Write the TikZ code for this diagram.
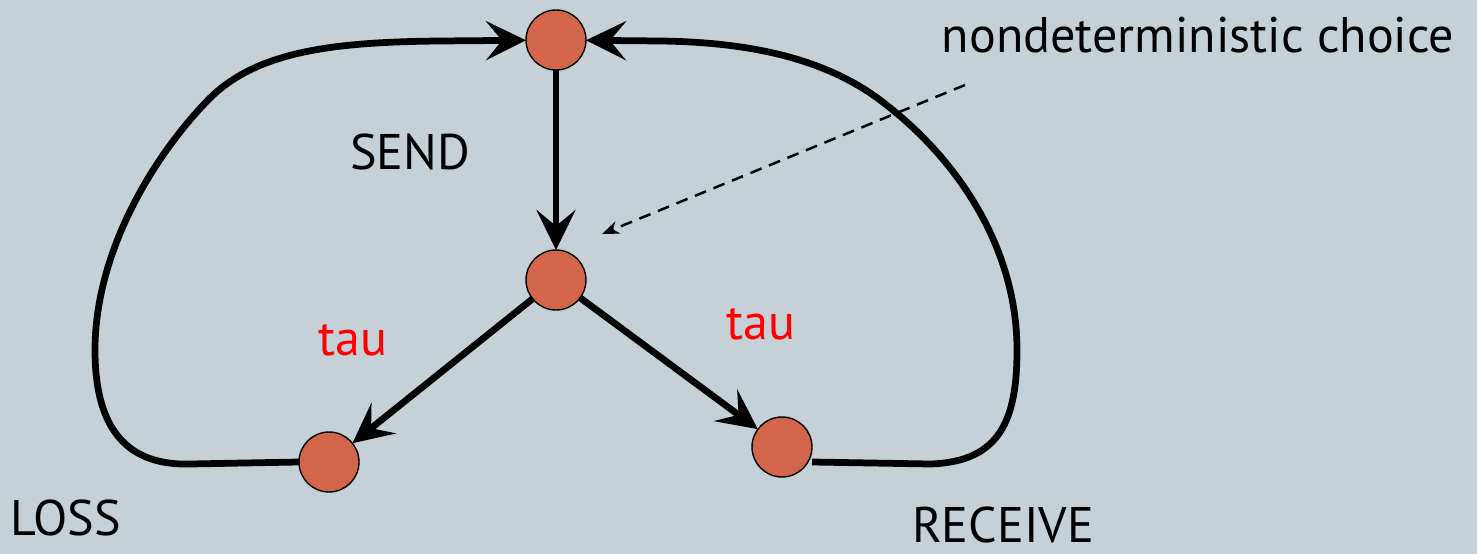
\documentclass[tikz,border=0pt]{standalone}
\usepackage{fontspec}
\setmainfont{PT Sans}
\usepackage{xcolor}
\usetikzlibrary{arrows.meta}
\definecolor{slate}{RGB}{197,209,215}
\definecolor{statefill}{RGB}{211,101,74}
\newcommand{\statesize}{1.2cm}
\newcommand{\arcwidth}{0.135cm}
\newcommand{\labelfont}{\fontsize{28.5}{34}\selectfont}
\tikzset{
  state/.style={circle,draw,line width=0.8pt,fill=statefill,
    minimum size=\statesize,inner sep=0pt,outer sep=0pt},
  arc/.style={line width=\arcwidth,
    -{Stealth[length=0.8cm,width=0.78cm,inset=0.32cm]}},
  loop/.style={arc,rounded corners=0pt},
  lbl/.style={anchor=base,inner sep=0pt,font=\labelfont},
  hint/.style={line width=0.05cm,dash pattern=on 0.24cm off 0.16cm,
    -{Stealth[length=0.34cm,width=0.26cm,inset=0.1cm]}},
}

\begin{document}
\begin{tikzpicture}[x=0.02cm,y=-0.02cm]
  % background
  \fill[slate] (0,0) rectangle (1477,554);
  \useasboundingbox (0,0) rectangle (1477,554);
  % states
  \node[state] (top) at (556,40) {};
  \node[state] (mid) at (556,280) {};
  \node[state] (loss) at (329,462) {};
  \node[state] (recv) at (782,447) {};
  % transitions
  \draw[arc] (top) -- (mid);
  \draw[arc] (mid) -- (loss);
  \draw[arc] (mid) -- (recv);
  % loss loop
  \draw[loop] (loss.west) -- (190,464)
    .. controls (120,466) and (95,420) .. (95,350)
    .. controls (95,255) and (150,160) .. (208,100)
    .. controls (255,52) and (330,42) .. (440,41) -- (top);
  % receive loop
  \draw[loop] (recv.east |- 0,462) -- (930,464)
    .. controls (1000,462) and (1017,420) .. (1017,350)
    .. controls (1017,250) and (960,160) .. (880,100)
    .. controls (820,55) and (740,42) .. (660,41) -- (top);
  % labels
  \node[lbl] (send) at (410,170) {SEND};
  \node[lbl,red] (tauloss) at (353,355) {tau};
  \node[lbl,red] (taurecv) at (761,339) {tau};
  \node[lbl] (losslbl) at (66,535) {LOSS};
  \node[lbl] (recvlbl) at (1003,542) {RECEIVE};
  \node[lbl] (choice) at (1198,53) {nondeterministic choice};
  % pointer to the choice state
  \coordinate (hintfrom) at (965,85);
  \coordinate (hintto) at (602,234);
  \draw[hint] (hintfrom) -- (hintto);
\end{tikzpicture}
\end{document}
